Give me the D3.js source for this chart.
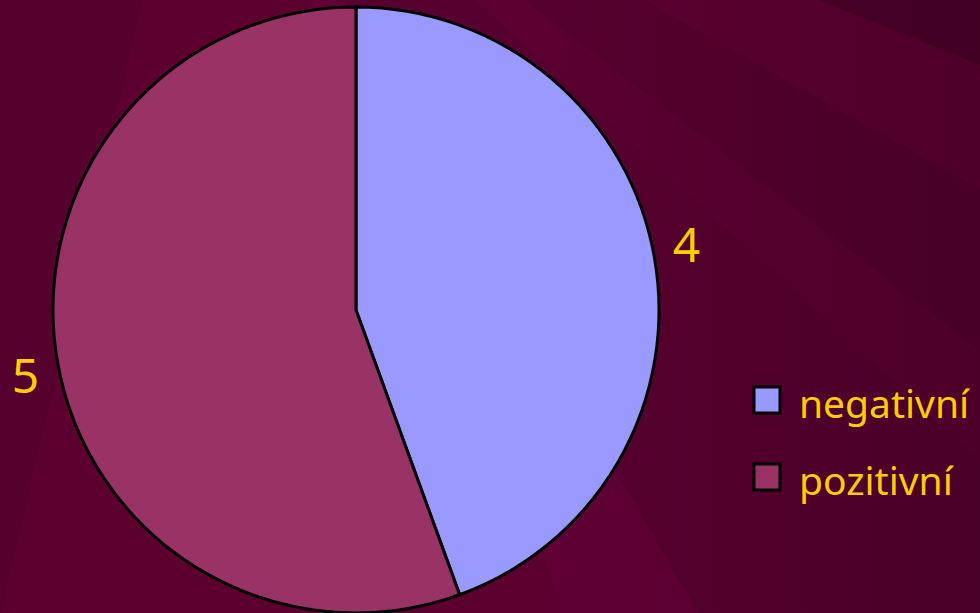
<!DOCTYPE html>
<html>
<head>
<meta charset="utf-8">
<script src="https://cdn.jsdelivr.net/npm/d3@7"></script>
<style>
  html, body { margin: 0; padding: 0; background: #580030; overflow: hidden; }
  svg { display: block; }
  text { font-family: "Noto Sans", "DejaVu Sans", sans-serif; fill: #FFCC00; }
</style>
</head>
<body>
<svg id="chart" width="980" height="613"></svg>
<script>
// data
const categories = ["negativní", "pozitivní"]
const values = [4, 5]
const colors = ["#9999FF", "#993366"]

// background rays: [start angle, end angle, colour] in degrees, clockwise from the top
const rays = [
    [60, 112, "#4e002a"],
    [112, 119.4, "#5d0031"],
    [119.4, 127.6, "#55002e"],
    [127.6, 132.3, "#5b0031"],
    [132.3, 150, "#57002f"],
    [150, 157, "#600034"],
    [157, 193, "#5c0030"],
    [193, 230, "#55002d"],
    [230, 300, "#5a002f"],
]

const width = 980
const height = 613
const cx = 356
const cy = 310
const radius = 303
const rayOrigin = [200, -250]

const svg = d3.select("#chart")

const bgGrad = svg.append("defs").append("linearGradient")
    .attr("id", "shade")
    .attr("x1", "0").attr("y1", "0").attr("x2", "1").attr("y2", "0")
bgGrad.append("stop").attr("offset", "0.55").attr("stop-color", "#000").attr("stop-opacity", 0)
bgGrad.append("stop").attr("offset", "1").attr("stop-color", "#000").attr("stop-opacity", 0.16)

const bg = svg.append("g").attr("transform", `translate(${rayOrigin})`)
const rayArc = d3.arc().innerRadius(0).outerRadius(2000)
bg.selectAll("path")
    .data(rays)
    .join("path")
    .attr("d", d => rayArc({startAngle: d[0] * Math.PI / 180, endAngle: d[1] * Math.PI / 180}))
    .attr("fill", d => d[2])

svg.append("rect")
    .attr("width", width).attr("height", height)
    .attr("fill", "url(#shade)")

// pie
const pie = d3.pie().sort(null).value(d => d)
const arcs = pie(values)
const arc = d3.arc().innerRadius(0).outerRadius(radius)
const labelRadius = 337
const labelShift = -1.25 * Math.PI / 180

const g = svg.append("g").attr("transform", `translate(${cx},${cy})`)

g.selectAll("path")
    .data(arcs)
    .join("path")
    .attr("d", arc)
    .attr("fill", (d, i) => colors[i])
    .attr("stroke", "#000")
    .attr("stroke-width", 3)
    .attr("stroke-linejoin", "miter")

g.selectAll("text")
    .data(arcs)
    .join("text")
    .attr("transform", d => {
        const a = (d.startAngle + d.endAngle) / 2 + labelShift
        return `translate(${labelRadius * Math.sin(a)},${-labelRadius * Math.cos(a)})`
    })
    .attr("text-anchor", "middle")
    .attr("dy", "0.36em")
    .attr("font-size", 48)
    .text(d => d.data)

// legend
const legend = svg.append("g").attr("transform", "translate(754,387)")
const item = legend.selectAll("g")
    .data(categories)
    .join("g")
    .attr("transform", (d, i) => `translate(0,${i * 77})`)

item.append("rect")
    .attr("width", 26).attr("height", 26)
    .attr("fill", (d, i) => colors[i])
    .attr("stroke", "#000")
    .attr("stroke-width", 3)

item.append("text")
    .attr("x", 45)
    .attr("y", 31)
    .attr("font-size", 39)
    .text(d => d)
</script>
</body>
</html>
